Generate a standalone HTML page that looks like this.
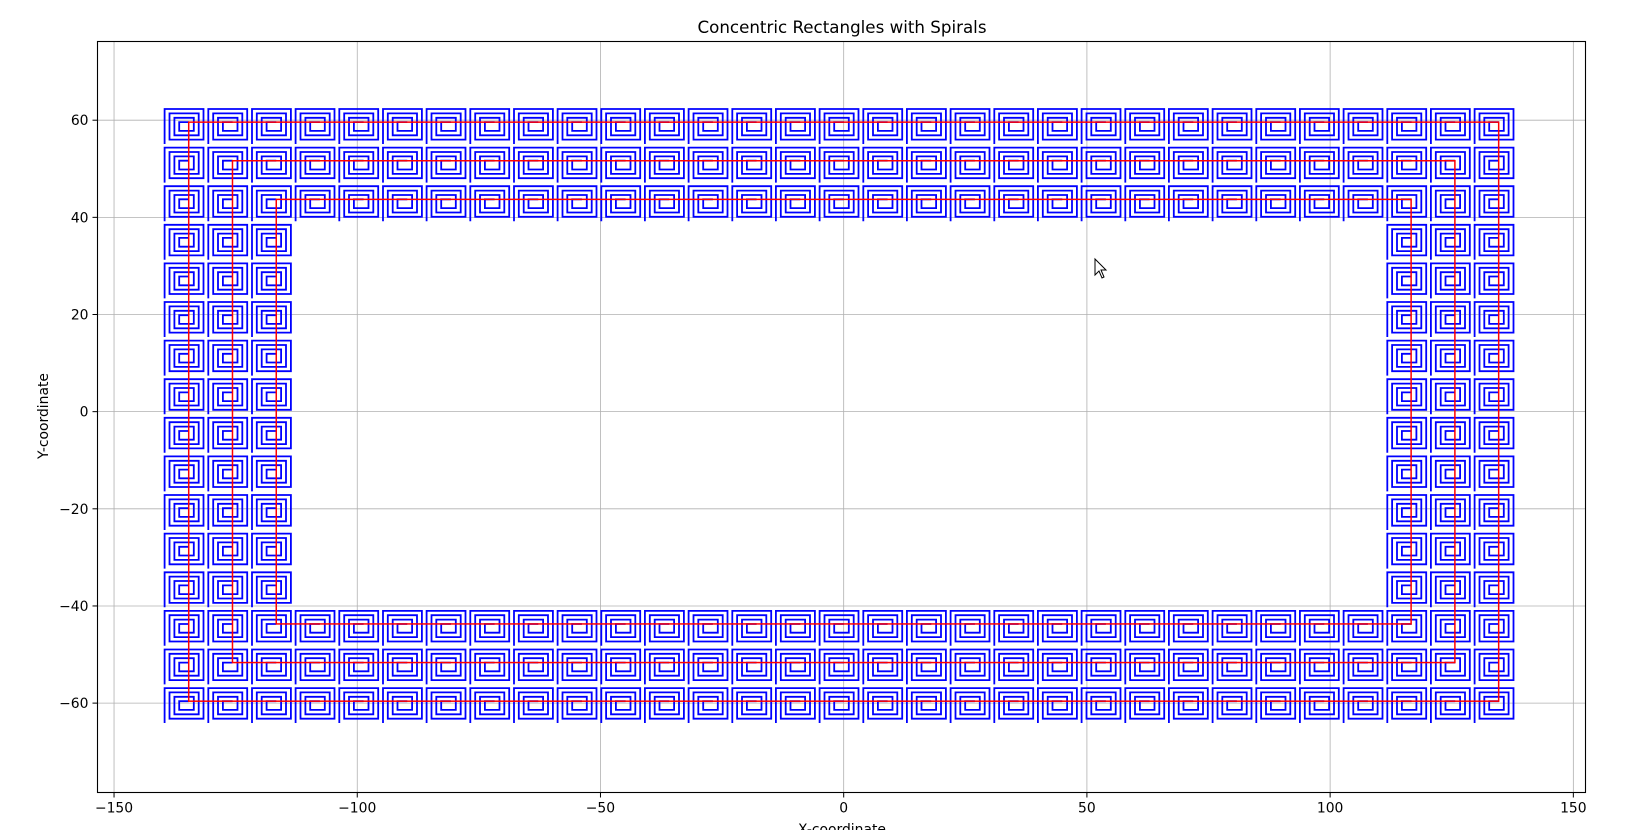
<!DOCTYPE html>
<html><head><meta charset="utf-8"><style>
body{margin:0;background:#fff;width:1647px;height:830px;overflow:hidden;font-family:"Liberation Sans","DejaVu Sans",sans-serif}
svg text{font-family:"DejaVu Sans","Liberation Sans",sans-serif}
</style></head><body>
<svg id="chart" width="1647" height="830" xmlns="http://www.w3.org/2000/svg">
<rect x="0" y="0" width="1647" height="830" fill="#fff"/>
<g id="grid"></g>
<g id="cells"></g>
<g id="rings"></g>
<rect x="97.5" y="41.5" width="1488" height="751" fill="none" stroke="#000" stroke-width="1.1"/>
<g id="ticks"></g>
<text x="842" y="33" font-size="16.7" text-anchor="middle">Concentric Rectangles with Spirals</text>
<text x="842" y="834" font-size="13.9" text-anchor="middle">X-coordinate</text>
<text x="48" y="416" font-size="13.9" text-anchor="middle" transform="rotate(-90 48 416)">Y-coordinate</text>
<path d="M1095,259 L1095,275 L1099,271 L1102,278 L1104,277 L1101,270 L1106,270 Z" fill="#fff" stroke="#000" stroke-width="1"/>
</svg>
<script>
const xTicks=[-150,-100,-50,0,50,100,150];
const yTicks=[-60,-40,-20,0,20,40,60];
const colCount=31, rowCount=16, frameThickness=3;
const xFirst=-134.6, xLast=134.7, yFirst=59.6, yLast=-59.6;
const ringHalfW=[134.65,125.65,116.65];
const ringHalfH=[59.6,51.65,43.7];
const spiralLens=[2,2,3,3,4,4,5,5,6,6,7,7,8,8];
const xMin=-153.4,xMax=152.5,yMin=-78.4,yMax=76.2;
const L=97.5,R=1585.5,T=41.5,B=792.5;
const sx=v=>L+(v-xMin)/(xMax-xMin)*(R-L);
const sy=v=>B-(v-yMin)/(yMax-yMin)*(B-T);
const NS="http://www.w3.org/2000/svg";
function mk(tag,attrs,parent){const e=document.createElementNS(NS,tag);for(const k in attrs)e.setAttribute(k,attrs[k]);parent.appendChild(e);return e;}
const grid=document.getElementById('grid'),ticks=document.getElementById('ticks');
xTicks.forEach(t=>{const x=sx(t);
 const g=mk('line',{x1:x,x2:x,y1:T,y2:B,stroke:'#b0b0b0','stroke-width':0.8},grid);
 
 
 const tk=mk('line',{x1:x,x2:x,y1:B,y2:B+5,stroke:'#000'},ticks);
 
 
 const tx=mk('text',{x:x,y:B+20,'font-size':13.9,'text-anchor':'middle'},ticks);
 tx.textContent=t<0?'\u2212'+(-t):String(t);
 
 });
yTicks.forEach(t=>{const y=sy(t);
 const g=mk('line',{x1:L,x2:R,y1:y,y2:y,stroke:'#b0b0b0','stroke-width':0.8},grid);
 
 
 const tk=mk('line',{x1:L-5,x2:L,y1:y,y2:y,stroke:'#000'},ticks);
 
 
 const tx=mk('text',{x:L-9,y:y+5,'font-size':13.9,'text-anchor':'end'},ticks);
 tx.textContent=t<0?'\u2212'+(-t):String(t);
 
 });
const cells=document.getElementById('cells');
const dirs=[[-1,0],[0,-1],[1,0],[0,1]];
const ux=1.0, uy=0.9;
for(let r=0;r<rowCount;r++)for(let c=0;c<colCount;c++){
 const inFrame=r<frameThickness||r>=rowCount-frameThickness||c<frameThickness||c>=colCount-frameThickness;
 if(!inFrame)continue;
 const cx=xFirst+(xLast-xFirst)*c/(colCount-1), cy=yFirst+(yLast-yFirst)*r/(rowCount-1);
 let px=cx,py=cy,d='M'+sx(px).toFixed(1)+','+sy(py).toFixed(1);
 spiralLens.forEach((len,i)=>{const dv=dirs[i%4];px+=dv[0]*len*ux;py+=dv[1]*len*uy;d+='L'+sx(px).toFixed(1)+','+sy(py).toFixed(1);});
 const p=mk('path',{d:d,fill:'none',stroke:'#0000ff','stroke-width':1.8},cells);
 
 
}
const rings=document.getElementById('rings');
ringHalfW.forEach((hw,i)=>{const hh=ringHalfH[i];
 const rc=mk('rect',{x:sx(-hw),y:sy(hh),width:sx(hw)-sx(-hw),height:sy(-hh)-sy(hh),fill:'none',stroke:'#ff0000','stroke-width':1.5},rings);
 
 });
</script>
</body></html>
